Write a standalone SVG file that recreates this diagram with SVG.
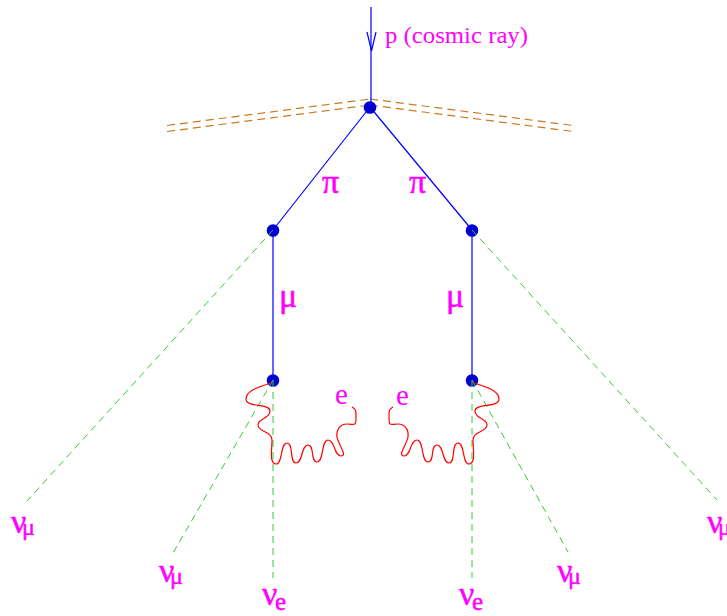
<svg xmlns="http://www.w3.org/2000/svg" width="727" height="616" viewBox="0 0 727 616">
<style>
.atm{stroke:#c87a20;stroke-width:1.2;stroke-dasharray:8,5;fill:none}
.bl{stroke:#0000ff;stroke-width:1.2;fill:none}
.dot{fill:#0000d0}
.nu{stroke:#33cc33;stroke-width:1;stroke-dasharray:7,5;fill:none}
.wv{stroke:#ff0000;stroke-width:1.2;fill:none}
.lb{fill:#ff00ff;font-family:"Liberation Serif","DejaVu Serif",serif}
.gk{stroke:#ff00ff;stroke-width:0.5}
</style>
<rect width="727" height="616" fill="#ffffff"/>
<g id="atmosphere">
<line class="atm" x1="167" y1="125.5" x2="370" y2="99"/>
<line class="atm" x1="167" y1="131.5" x2="370" y2="105"/>
<line class="atm" x1="370" y1="99" x2="573" y2="125.5"/>
<line class="atm" x1="370" y1="105" x2="573" y2="131.5"/>
</g>
<g id="connectors">
<line class="bl" x1="371" y1="7" x2="371" y2="107"/>
<polyline class="bl" points="367,32 371.5,51 376,32"/>
<line class="bl" x1="370" y1="107" x2="273" y2="230"/>
<line class="bl" x1="370" y1="107" x2="472" y2="230"/>
<line class="bl" x1="273" y1="230" x2="273" y2="380"/>
<line class="bl" x1="472" y1="230" x2="472" y2="380"/>
</g>
<g id="vertices">
<g id="v-top"><circle class="dot" cx="370" cy="107.5" r="6.3"/></g>
<g id="v-pi-left"><circle class="dot" cx="273" cy="230.5" r="6.3"/></g>
<g id="v-pi-right"><circle class="dot" cx="472" cy="230.5" r="6.3"/></g>
<g id="v-mu-left"><circle class="dot" cx="273" cy="380.5" r="6.3"/></g>
<g id="v-mu-right"><circle class="dot" cx="472" cy="380.5" r="6.3"/></g>
</g>
<g id="neutrinos">
<line class="nu" x1="273" y1="230" x2="27" y2="501"/>
<line class="nu" x1="472" y1="230" x2="717" y2="500"/>
<line class="nu" x1="273" y1="380" x2="173" y2="553"/>
<line class="nu" x1="472" y1="380" x2="568" y2="552"/>
<line class="nu" x1="273" y1="380" x2="273" y2="578"/>
<line class="nu" x1="472" y1="380" x2="472" y2="578"/>
</g>
<g id="electrons">
<path id="wave-left" class="wv" d="M271,383 C262,386 246,390 246,399 S270,403 270,411 S258,418 258,425 S272,431 272,440 S269,464 276,464 S280,443 287,443 S289,463 296,463 S301,445 308,445 S310,462 317,462 S321,440 328,440 S334,456 341,456 S338,444 337,437 S340,424 347,424 S356,427 356,418 S356,410 352,407"/>
<path id="wave-right" class="wv" transform="matrix(-1 0 0 1 745 0)" d="M271,383 C262,386 246,390 246,399 S270,403 270,411 S258,418 258,425 S272,431 272,440 S269,464 276,464 S280,443 287,443 S289,463 296,463 S301,445 308,445 S310,462 317,462 S321,440 328,440 S334,456 341,456 S338,444 337,437 S340,424 347,424 S356,427 356,418 S356,410 352,407"/>
</g>
<g id="labels">
<text class="lb" x="385" y="43" font-size="24" textLength="143" lengthAdjust="spacingAndGlyphs">p (cosmic ray)</text>
<text class="lb gk" x="322" y="193" font-size="34">π</text>
<text class="lb gk" x="409" y="193" font-size="34">π</text>
<text class="lb gk" x="279" y="307" font-size="34">μ</text>
<text class="lb gk" x="446" y="307" font-size="34">μ</text>
<text class="lb" x="335" y="404" font-size="29">e</text>
<text class="lb" x="396" y="405" font-size="29">e</text>
<text class="lb gk" x="11" y="533" font-size="34">ν<tspan x="22" y="535" font-size="24">μ</tspan></text>
<text class="lb gk" x="159" y="582" font-size="34">ν<tspan x="170" y="584" font-size="24">μ</tspan></text>
<text class="lb gk" x="557" y="582" font-size="34">ν<tspan x="568" y="584" font-size="24">μ</tspan></text>
<text class="lb gk" x="707" y="533" font-size="34">ν<tspan x="718" y="535" font-size="24">μ</tspan></text>
<text class="lb gk" x="262" y="605" font-size="34">ν<tspan x="275" y="610" font-size="25" class="lb">e</tspan></text>
<text class="lb gk" x="459" y="605" font-size="34">ν<tspan x="472" y="610" font-size="25" class="lb">e</tspan></text>
</g>
</svg>
